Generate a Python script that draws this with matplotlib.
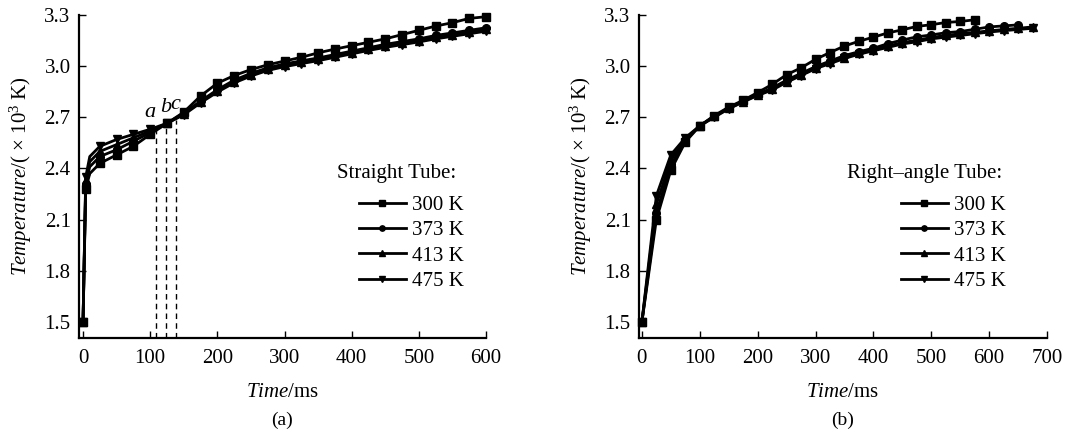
import matplotlib
matplotlib.use("Agg")
import matplotlib.pyplot as plt
import numpy as np

plt.rcParams['font.family'] = ['Liberation Serif', 'DejaVu Serif']
plt.rcParams['mathtext.fontset'] = 'custom'
plt.rcParams['mathtext.rm'] = 'Liberation Serif'
plt.rcParams['mathtext.it'] = 'Liberation Serif:italic'

# ---------------- data: panel (a) straight tube ----------------
time_a = [0, 4, 10, 25, 50, 75, 100, 125, 150, 175, 200, 225, 250, 275, 300,
          325, 350, 375, 400, 425, 450, 475, 500, 525, 550, 575, 600]
a_300 = [1.5, 2.28, 2.37, 2.43, 2.48, 2.53, 2.60, 2.665, 2.73, 2.825, 2.90, 2.945,
         2.98, 3.008, 3.03, 3.052, 3.078, 3.10, 3.12, 3.14, 3.16, 3.185, 3.21,
         3.235, 3.255, 3.28, 3.29]
a_373 = [1.5, 2.31, 2.41, 2.47, 2.51, 2.56, 2.61, 2.665, 2.725, 2.795, 2.862, 2.918,
         2.958, 2.99, 3.013, 3.031, 3.048, 3.068, 3.088, 3.108, 3.128, 3.144, 3.16,
         3.18, 3.195, 3.21, 3.225]
a_413 = [1.5, 2.33, 2.44, 2.50, 2.54, 2.58, 2.62, 2.665, 2.72, 2.79, 2.855, 2.91,
         2.95, 2.983, 3.005, 3.023, 3.04, 3.06, 3.08, 3.10, 3.12, 3.135, 3.15,
         3.17, 3.185, 3.20, 3.215]
a_475 = [1.5, 2.35, 2.47, 2.53, 2.57, 2.60, 2.63, 2.665, 2.715, 2.785, 2.848, 2.902,
         2.942, 2.975, 2.997, 3.015, 3.032, 3.052, 3.072, 3.092, 3.11, 3.126, 3.142,
         3.16, 3.175, 3.19, 3.205]
skip_a = [0, 1] + list(range(3, len(time_a)))   # no marker at t=10

mark_t = [108, 124, 138]
mark_v = [2.625, 2.66, 2.685]
mark_lbl = ['a', 'b', 'c']
mark_lbl_t = [100, 122.5, 138]
mark_lbl_v = [2.727, 2.758, 2.778]

# ---------------- data: panel (b) right-angle tube ----------------
time_b = [0, 25, 50, 75, 100, 125, 150, 175, 200, 225, 250, 275, 300, 325,
          350, 375, 400, 425, 450, 475, 500, 525, 550, 575, 600, 625, 650, 675]
b_300 = [1.5, 2.10, 2.39, 2.555, 2.65, 2.71, 2.76, 2.80, 2.845, 2.893, 2.95, 2.99,
         3.04, 3.08, 3.118, 3.146, 3.17, 3.195, 3.213, 3.233, 3.243, 3.256, 3.262, 3.272]
b_373 = [1.5, 2.14, 2.42, 2.565, 2.65, 2.705, 2.755, 2.795, 2.835, 2.872, 2.918, 2.958,
         2.997, 3.03, 3.062, 3.085, 3.105, 3.132, 3.153, 3.172, 3.183, 3.196, 3.203,
         3.216, 3.23, 3.236, 3.242]
b_413 = [1.5, 2.19, 2.45, 2.57, 2.65, 2.705, 2.752, 2.792, 2.832, 2.865, 2.91, 2.95,
         2.99, 3.022, 3.05, 3.077, 3.097, 3.118, 3.138, 3.152, 3.168, 3.18, 3.19,
         3.198, 3.207, 3.215, 3.222, 3.23]
b_475 = [1.5, 2.24, 2.48, 2.58, 2.65, 2.70, 2.75, 2.79, 2.828, 2.86, 2.905, 2.945,
         2.985, 3.015, 3.045, 3.07, 3.09, 3.11, 3.13, 3.143, 3.16, 3.17, 3.18,
         3.19, 3.20, 3.208, 3.215, 3.222]

labels = ['300 K', '373 K', '413 K', '475 K']
markers = ['s', 'o', '^', 'v']
yticks = [1.5, 1.8, 2.1, 2.4, 2.7, 3.0, 3.3]
xticks_a = [0, 100, 200, 300, 400, 500, 600]
xticks_b = [0, 100, 200, 300, 400, 500, 600, 700]

FS = 15
fig = plt.figure(figsize=(10.66, 4.38), dpi=100)
axA = fig.add_axes([79/1066, 1-338/438, 407/1066, 323/438])
axB = fig.add_axes([639/1066, 1-338/438, 408/1066, 323/438])


def style(ax, xlim, xticks, title, sub):
    ax.set_xlim(*xlim)
    ax.set_ylim(1.406, 3.3)
    ax.set_xticks(xticks)
    ax.set_yticks(yticks)
    ax.set_yticklabels([f'{v:.1f}' for v in yticks])
    for s in ['top', 'right']:
        ax.spines[s].set_visible(False)
    for s in ['left', 'bottom']:
        ax.spines[s].set_linewidth(1.6)
    ax.tick_params(direction='in', length=5, width=1.0, labelsize=FS)
    ax.tick_params(axis='y', pad=6)
    ax.tick_params(axis='x', pad=8)
    ax.set_xlabel(r'$\mathit{Time}$/ms', fontsize=FS, va='center')
    ax.xaxis.set_label_coords(0.5, -0.168)
    ax.set_ylabel(r'$\mathit{Temperature}$/( × 10$^{3}$ K)', fontsize=FS, va='center')
    ax.yaxis.set_label_coords(-0.1425, 0.5)
    ax.text(0.5, -0.255, sub, transform=ax.transAxes, ha='center', va='center',
            fontsize=FS - 1)
    ax.legend(loc='upper left', frameon=False, fontsize=FS,
              bbox_to_anchor=(title[1], 0.442), borderpad=0, borderaxespad=0,
              handlelength=2.25, handletextpad=0.3, labelspacing=0.28,
              markerscale=0.7)
    ax.text(title[2], 0.508, title[0], transform=ax.transAxes, ha='center',
            va='center', fontsize=FS)


lw = 2.0
ms = 5.5
for ys, lab, mk in zip([a_300, a_373, a_413, a_475], labels, markers):
    axA.plot(time_a, ys, color='black', lw=lw, marker=mk, ms=ms, label=lab,
             markevery=skip_a, clip_on=False)
for tt, vv in zip(mark_t, mark_v):
    axA.plot([tt, tt], [1.406, vv], color='black', lw=1.0, ls=(0, (4, 3)))
for lt, lv, lb in zip(mark_lbl_t, mark_lbl_v, mark_lbl):
    axA.text(lt, lv, lb, ha='center', va='center', fontsize=FS + 1, style='italic')

for ys, lab, mk in zip([b_300, b_373, b_413, b_475], labels, markers):
    axB.plot(time_b[:len(ys)], ys, color='black', lw=lw, marker=mk, ms=ms,
             label=lab, clip_on=False)

style(axA, (-6, 600), xticks_a, ('Straight Tube:', 0.688, 0.781), '(a)')
style(axB, (-5, 700), xticks_b, ('Right\u2013angle Tube:', 0.642, 0.70), '(b)')

fig.savefig('out.png', dpi=100)
